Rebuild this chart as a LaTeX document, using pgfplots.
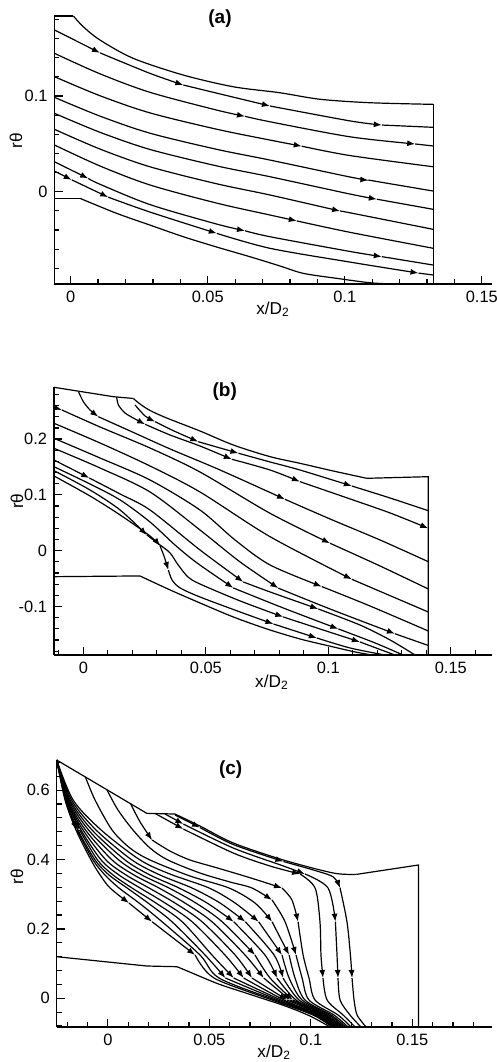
\documentclass[border=0pt]{standalone}
\usepackage{fontspec}
\setmainfont{Liberation Sans}
\usepackage{pgfplots}
\pgfplotsset{compat=1.18}
\usetikzlibrary{arrows.meta}
\pgfplotsset{
 sl/.style={black,line width=0.6pt,smooth,mark=none},
 sa/.style={black,line width=0.6pt,smooth,mark=none,-{Latex[length=4pt,width=3pt]}},
 bd/.style={black,line width=0.6pt,mark=none},
 panel/.style={scale only axis, anchor=south west,
   axis x line*=bottom, axis y line*=left,
   tick align=inside, major tick length=4pt, minor tick length=2.4pt,
   tick style={black,line width=0.6pt},
   axis line style={black,line width=0.7pt},
   tick label style={font=\fontsize{8.2}{9}\selectfont},
   clip=false},
}
\newcommand{\ttl}{\bfseries\fontsize{9.5}{11}\selectfont}
\newcommand{\lbl}{\fontsize{8.6}{10}\selectfont}
\begin{document}
\begin{tikzpicture}
\useasboundingbox (0,0) rectangle (248.5pt,-531pt);
% ---------------- (a)
\begin{axis}[panel, at={(27.25pt,-142pt)}, width=218.6pt, height=134pt,
 xmin=-0.0059,xmax=0.1536,ymin=-0.0964,ymax=0.1836,
 xtick={0,0.05,0.1,0.15}, xticklabels={0,0.05,0.1,0.15},
 minor xtick={0.01,0.02,0.03,0.04,0.06,0.07,0.08,0.09,0.11,0.12,0.13,0.14},
 ytick={0,0.1}, yticklabels={0,0.1},
 minor ytick={-0.08,-0.06,-0.04,-0.02,0.02,0.04,0.06,0.08,0.12,0.14,0.16,0.18}]
\addplot[bd] coordinates {(-0.0059,0.1836)(0.0010,0.1836)};
\addplot[sl] coordinates {(0.0010,0.1836)(0.0046,0.1724)(0.0107,0.1585)(0.0228,0.1394)(0.0411,0.1219)(0.0593,0.1097)(0.0764,0.1034)(0.0910,0.0966)(0.1092,0.0930)(0.1323,0.0913)};
\addplot[bd] coordinates {(0.1323,0.0913)(0.1323,-0.0964)};
\addplot[bd] coordinates {(-0.0059,-0.0069)(0.0034,-0.0069)};
\addplot[sl] coordinates {(0.0034,-0.0069)(0.0168,-0.0226)(0.0289,-0.0348)(0.0411,-0.0470)(0.0533,-0.0578)(0.0654,-0.0679)(0.0764,-0.0776)(0.0849,-0.0853)(0.0971,-0.0905)(0.1092,-0.0951)(0.1177,-0.0964)};
\addplot[sa] coordinates {(-0.0059,0.1690)(0.0107,0.1451)};
\addplot[sa] coordinates {(0.0107,0.1451)(0.0289,0.1237)(0.0411,0.1115)};
\addplot[sa] coordinates {(0.0411,0.1115)(0.0533,0.1030)(0.0727,0.0896)};
\addplot[sa] coordinates {(0.0727,0.0896)(0.1019,0.0740)(0.1135,0.0697)};
\addplot[sl] coordinates {(0.1135,0.0697)(0.1323,0.0673)};
\addplot[sa] coordinates {(-0.0059,0.1446)(0.0107,0.1232)(0.0289,0.1039)(0.0533,0.0853)(0.0636,0.0788)};
\addplot[sa] coordinates {(0.0636,0.0788)(0.0727,0.0731)(0.1019,0.0574)(0.1257,0.0499)};
\addplot[sl] coordinates {(0.1257,0.0499)(0.1323,0.0478)};
\addplot[sa] coordinates {(-0.0059,0.1202)(0.0107,0.1003)(0.0289,0.0824)(0.0533,0.0653)(0.0727,0.0540)(0.0843,0.0476)};
\addplot[sl] coordinates {(0.0843,0.0476)(0.1019,0.0378)(0.1323,0.0261)};
\addplot[sa] coordinates {(-0.0059,0.0986)(0.0107,0.0790)(0.0289,0.0612)(0.0533,0.0443)(0.0727,0.0331)(0.1019,0.0154)(0.1086,0.0122)};
\addplot[sl] coordinates {(0.1086,0.0122)(0.1323,0.0007)};
\addplot[sa] coordinates {(-0.0059,0.0819)(0.0107,0.0621)(0.0289,0.0442)(0.0533,0.0270)(0.0727,0.0157)(0.1019,-0.0024)(0.1117,-0.0078)};
\addplot[sl] coordinates {(0.1117,-0.0078)(0.1323,-0.0184)};
\addplot[sa] coordinates {(-0.0059,0.0652)(0.0107,0.0446)(0.0289,0.0261)(0.0533,0.0083)(0.0727,-0.0034)(0.0983,-0.0202)};
\addplot[sl] coordinates {(0.0983,-0.0202)(0.1019,-0.0220)(0.1323,-0.0393)};
\addplot[sa] coordinates {(-0.0059,0.0488)(0.0107,0.0269)(0.0289,0.0071)(0.0533,-0.0119)(0.0727,-0.0243)(0.0825,-0.0305)};
\addplot[sl] coordinates {(0.0825,-0.0305)(0.1019,-0.0424)(0.1323,-0.0591)};
\addplot[sa] coordinates {(-0.0059,0.0313)(0.0064,0.0139)};
\addplot[sa] coordinates {(0.0064,0.0139)(0.0107,0.0078)(0.0289,-0.0134)(0.0533,-0.0338)(0.0636,-0.0408)};
\addplot[sa] coordinates {(0.0636,-0.0408)(0.0727,-0.0470)(0.1019,-0.0624)(0.1135,-0.0678)};
\addplot[sl] coordinates {(0.1135,-0.0678)(0.1323,-0.0766)};
\addplot[sa] coordinates {(-0.0059,0.0216)(0.0004,0.0124)};
\addplot[sa] coordinates {(0.0004,0.0124)(0.0137,-0.0057)};
\addplot[sa] coordinates {(0.0137,-0.0057)(0.0289,-0.0212)(0.0533,-0.0435)};
\addplot[sa] coordinates {(0.0533,-0.0435)(0.0727,-0.0591)(0.1019,-0.0735)(0.1269,-0.0850)};
\addplot[sl] coordinates {(0.1269,-0.0850)(0.1323,-0.0870)};
\node[font=\ttl] at (axis description cs:0.3785,0.99) {(a)};
\node[font=\lbl,rotate=90] at (axis description cs:-0.088,0.534) {rθ};
\node[font=\lbl] at (axis description cs:0.50,-0.093) {x/D\textsubscript{2}};
\end{axis}
% ---------------- (b)
\begin{axis}[panel, at={(27pt,-327.5pt)}, width=218.85pt, height=133.85pt,
 xmin=-0.0120,xmax=0.1667,ymin=-0.1870,ymax=0.2928,
 xtick={0,0.05,0.1,0.15}, xticklabels={0,0.05,0.1,0.15},
 minor xtick={-0.01,0.01,0.02,0.03,0.04,0.06,0.07,0.08,0.09,0.11,0.12,0.13,0.14,0.16},
 ytick={-0.1,0,0.1,0.2}, yticklabels={-0.1,0,0.1,0.2},
 minor ytick={-0.18,-0.16,-0.14,-0.12,-0.08,-0.06,-0.04,-0.02,0.02,0.04,0.06,0.08,0.12,0.14,0.16,0.18,0.22,0.24,0.26,0.28}]
\addplot[bd] coordinates {(-0.0120,0.2928)(0.0122,0.2760)(0.0204,0.2728)};
\addplot[sl] coordinates {(0.0204,0.2728)(0.0231,0.2629)(0.0272,0.2513)(0.0340,0.2378)(0.0476,0.2145)(0.0612,0.1894)(0.0762,0.1685)(0.0884,0.1566)(0.1020,0.1428)(0.1157,0.1297)};
\addplot[bd] coordinates {(0.1157,0.1297)(0.1408,0.1326)(0.1408,-0.1870)};
\addplot[bd] coordinates {(-0.0120,-0.0466)(0.0231,-0.0453)};
\addplot[sl] coordinates {(0.0231,-0.0453)(0.0354,-0.0704)(0.0476,-0.0937)(0.0612,-0.1188)(0.0749,-0.1403)(0.0884,-0.1582)(0.1020,-0.1725)(0.1109,-0.1815)(0.1178,-0.1870)};
\addplot[sa] coordinates {(0.0211,0.2611)(0.0252,0.2414)(0.0293,0.2312)};
\addplot[sa] coordinates {(0.0293,0.2312)(0.0367,0.2151)(0.0469,0.1953)};
\addplot[sa] coordinates {(0.0469,0.1953)(0.0633,0.1746)};
\addplot[sa] coordinates {(0.0633,0.1746)(0.0762,0.1590)(0.0884,0.1446)(0.1096,0.1159)};
\addplot[sl] coordinates {(0.1096,0.1159)(0.1252,0.0944)(0.1408,0.0717)};
\addplot[sa] coordinates {(0.0136,0.2754)(0.0143,0.2611)(0.0170,0.2468)(0.0211,0.2360)(0.0252,0.2265)};
\addplot[sa] coordinates {(0.0252,0.2265)(0.0354,0.2073)(0.0476,0.1876)(0.0606,0.1638)};
\addplot[sa] coordinates {(0.0606,0.1638)(0.0762,0.1446)(0.0884,0.1237)};
\addplot[sa] coordinates {(0.0884,0.1237)(0.1089,0.0927)(0.1252,0.0676)(0.1408,0.0401)};
\addplot[sa] coordinates {(-0.0020,0.2849)(0.0000,0.2670)(0.0027,0.2522)(0.0061,0.2401)};
\addplot[sa] coordinates {(0.0061,0.2401)(0.0191,0.2145)(0.0354,0.1823)(0.0558,0.1446)(0.0823,0.0921)};
\addplot[sl] coordinates {(0.0823,0.0921)(0.1007,0.0568)(0.1211,0.0192)(0.1408,-0.0197)};
\addplot[sa] coordinates {(-0.0120,0.2570)(-0.0088,0.2522)};
\addplot[sa] coordinates {(-0.0088,0.2522)(0.0068,0.2217)(0.0272,0.1840)(0.0476,0.1410)(0.0762,0.0670)(0.1007,0.0133)};
\addplot[sl] coordinates {(0.1007,0.0133)(0.1211,-0.0274)(0.1408,-0.0686)};
\addplot[sa] coordinates {(-0.0120,0.2283)(0.0068,0.1930)(0.0272,0.1518)(0.0476,0.1052)(0.0762,0.0251)(0.1096,-0.0513)};
\addplot[sl] coordinates {(0.1096,-0.0513)(0.1408,-0.1099)};
\addplot[sa] coordinates {(-0.0120,0.2014)(0.0068,0.1661)(0.0272,0.1267)(0.0476,0.0729)(0.0619,0.0192)(0.0762,-0.0256)(0.0973,-0.0643)};
\addplot[sl] coordinates {(0.0973,-0.0643)(0.1170,-0.0991)(0.1408,-0.1439)};
\addplot[sa] coordinates {(-0.0120,0.1835)(0.0068,0.1482)(0.0272,0.1052)(0.0476,0.0371)(0.0640,-0.0203)(0.0796,-0.0672)};
\addplot[sa] coordinates {(0.0796,-0.0672)(0.1007,-0.1045)(0.1272,-0.1489)};
\addplot[sl] coordinates {(0.1272,-0.1489)(0.1408,-0.1699)};
\addplot[sa] coordinates {(-0.0120,0.1625)(0.0024,0.1303)};
\addplot[sa] coordinates {(0.0024,0.1303)(0.0150,0.1016)(0.0272,0.0729)(0.0476,0.0013)(0.0653,-0.0561)};
\addplot[sa] coordinates {(0.0653,-0.0561)(0.0762,-0.0740)(0.0959,-0.1045)};
\addplot[sl] coordinates {(0.0959,-0.1045)(0.1129,-0.1332)(0.1252,-0.1600)(0.1354,-0.1870)};
\addplot[sa] coordinates {(-0.0120,0.1505)(0.0027,0.1195)(0.0150,0.0909)(0.0272,0.0514)(0.0374,0.0102)(0.0464,-0.0220)(0.0612,-0.0668)};
\addplot[sa] coordinates {(0.0612,-0.0668)(0.0816,-0.1027)(0.1041,-0.1403)};
\addplot[sl] coordinates {(0.1041,-0.1403)(0.1191,-0.1654)(0.1305,-0.1870)};
\addplot[sa] coordinates {(-0.0120,0.1434)(0.0027,0.1088)(0.0150,0.0729)(0.0259,0.0281)};
\addplot[sa] coordinates {(0.0259,0.0281)(0.0313,0.0102)(0.0354,-0.0041)(0.0387,-0.0256)(0.0427,-0.0471)(0.0476,-0.0597)(0.0640,-0.0901)(0.0816,-0.1188)};
\addplot[sa] coordinates {(0.0816,-0.1188)(0.0953,-0.1385)(0.1129,-0.1636)};
\addplot[sl] coordinates {(0.1129,-0.1636)(0.1272,-0.1870)};
\addplot[sa] coordinates {(-0.0120,0.1339)(0.0027,0.0980)(0.0150,0.0640)(0.0272,0.0263)(0.0313,0.0084)};
\addplot[sa] coordinates {(0.0313,0.0084)(0.0329,-0.0095)(0.0347,-0.0346)};
\addplot[sa] coordinates {(0.0347,-0.0346)(0.0362,-0.0525)(0.0395,-0.0668)(0.0476,-0.0830)(0.0640,-0.1099)(0.0776,-0.1314)};
\addplot[sa] coordinates {(0.0776,-0.1314)(0.0953,-0.1565)};
\addplot[sl] coordinates {(0.0953,-0.1565)(0.1089,-0.1744)(0.1231,-0.1870)};
\node[font=\ttl] at (axis description cs:0.39,0.985) {(b)};
\node[font=\lbl,rotate=90] at (axis description cs:-0.0845,0.575) {rθ};
\node[font=\lbl] at (axis description cs:0.498,-0.101) {x/D\textsubscript{2}};
\end{axis}
% ---------------- (c)
\begin{axis}[panel, at={(28.35pt,-513.5pt)}, width=217.5pt, height=133.75pt,
 xmin=-0.0252,xmax=0.1891,ymin=-0.0827,ymax=0.6882,
 xtick={0,0.05,0.1,0.15}, xticklabels={0,0.05,0.1,0.15},
 minor xtick={-0.02,-0.01,0.01,0.02,0.03,0.04,0.06,0.07,0.08,0.09,0.11,0.12,0.13,0.14,0.16,0.17,0.18},
 ytick={0,0.2,0.4,0.6}, yticklabels={0,0.2,0.4,0.6},
 minor ytick={-0.08,-0.04,0.04,0.08,0.12,0.16,0.24,0.28,0.32,0.36,0.44,0.48,0.52,0.56,0.64,0.68}]
\addplot[bd] coordinates {(-0.0252,0.6867)(0.0192,0.5331)(0.0331,0.5311)};
\addplot[sl] coordinates {(0.0331,0.5311)(0.0454,0.4965)(0.0618,0.4476)(0.0865,0.3986)(0.1111,0.3611)(0.1226,0.3573)};
\addplot[bd] coordinates {(0.1226,0.3573)(0.1530,0.3842)(0.1530,-0.0827)};
\addplot[bd] coordinates {(-0.0252,0.1199)(0.0192,0.0931)(0.0341,0.0911)};
\addplot[sl] coordinates {(0.0341,0.0911)(0.0415,0.0729)(0.0546,0.0412)(0.0710,0.0095)(0.0874,-0.0222)(0.0996,-0.0510)(0.1095,-0.0827)};
% j1
\addplot[sa] coordinates {(0.0331,0.5282)(0.0454,0.4922)};
\addplot[sa] coordinates {(0.0454,0.4922)(0.0618,0.4432)(0.0865,0.3942)};
\addplot[sa] coordinates {(0.0865,0.3942)(0.1021,0.3683)(0.1111,0.3496)(0.1144,0.3179)};
\addplot[sa] coordinates {(0.1144,0.3179)(0.1178,0.2207)(0.1195,0.1248)(0.1203,0.0585)};
\addplot[sl] coordinates {(0.1203,0.0585)(0.1213,-0.0049)(0.1228,-0.0481)(0.1272,-0.0827)};
% j2
\addplot[sa] coordinates {(0.0282,0.5311)(0.0372,0.5023)};
\addplot[sa] coordinates {(0.0372,0.5023)(0.0618,0.4331)(0.0865,0.3813)(0.0971,0.3582)};
\addplot[sa] coordinates {(0.0971,0.3582)(0.1085,0.3179)(0.1121,0.2207)};
\addplot[sa] coordinates {(0.1121,0.2207)(0.1129,0.1248)(0.1134,0.0585)};
\addplot[sl] coordinates {(0.1134,0.0585)(0.1144,-0.0049)(0.1193,-0.0481)(0.1247,-0.0827)};
% j3
\addplot[sa] coordinates {(0.0233,0.5326)(0.0372,0.4879)};
\addplot[sa] coordinates {(0.0372,0.4879)(0.0618,0.4187)(0.0799,0.3813)(0.0947,0.3582)};
\addplot[sa] coordinates {(0.0947,0.3582)(0.1021,0.3179)(0.1045,0.2207)(0.1050,0.1248)(0.1060,0.0585)};
\addplot[sl] coordinates {(0.1060,0.0585)(0.1080,-0.0049)(0.1159,-0.0481)(0.1218,-0.0827)};
% j4
\addplot[sa] coordinates {(0.0111,0.5620)(0.0159,0.5081)(0.0218,0.4562)};
\addplot[sa] coordinates {(0.0218,0.4562)(0.0306,0.4245)(0.0405,0.3986)(0.0546,0.3746)(0.0710,0.3458)(0.0858,0.3179)};
\addplot[sa] coordinates {(0.0858,0.3179)(0.0907,0.2833)(0.0937,0.2207)};
\addplot[sl] coordinates {(0.0937,0.2207)(0.0962,0.1248)(0.0991,0.0585)(0.1021,-0.0049)(0.1134,-0.0481)(0.1198,-0.0827)};
% j5
\addplot[sa] coordinates {(-0.0004,0.6003)(0.0050,0.5427)(0.0124,0.4850)(0.0208,0.4331)(0.0296,0.3986)(0.0454,0.3611)(0.0602,0.3352)(0.0710,0.3179)(0.0809,0.2833)};
\addplot[sa] coordinates {(0.0809,0.2833)(0.0873,0.2207)(0.0927,0.1248)};
\addplot[sl] coordinates {(0.0927,0.1248)(0.0957,0.0585)(0.0991,-0.0049)(0.1114,-0.0481)(0.1183,-0.0827)};
% j6
\addplot[sa] coordinates {(-0.0111,0.6386)(-0.0063,0.5715)(0.0021,0.4850)(0.0109,0.4331)(0.0208,0.3986)(0.0405,0.3524)(0.0597,0.3179)(0.0725,0.2746)(0.0809,0.2207)};
\addplot[sa] coordinates {(0.0809,0.2207)(0.0893,0.1248)};
\addplot[sl] coordinates {(0.0893,0.1248)(0.0922,0.0585)(0.0971,-0.0049)(0.1100,-0.0481)(0.1173,-0.0827)};
% j7
\addplot[sa] coordinates {(-0.0252,0.6867)(-0.0171,0.5715)(-0.0033,0.4850)(0.0159,0.3986)(0.0306,0.3582)(0.0499,0.3179)(0.0627,0.2746)(0.0743,0.2207)};
\addplot[sa] coordinates {(0.0743,0.2207)(0.0858,0.1248)};
\addplot[sl] coordinates {(0.0858,0.1248)(0.0893,0.0585)(0.0957,-0.0049)(0.1090,-0.0481)(0.1163,-0.0827)};
% j8
\addplot[sa] coordinates {(-0.0252,0.6867)(-0.0179,0.5715)(-0.0058,0.4850)(0.0119,0.3986)(0.0257,0.3553)(0.0415,0.3179)(0.0553,0.2746)(0.0677,0.2207)};
\addplot[sa] coordinates {(0.0677,0.2207)(0.0819,0.1248)(0.0863,0.0585)};
\addplot[sl] coordinates {(0.0863,0.0585)(0.0942,-0.0049)(0.1080,-0.0481)(0.1156,-0.0827)};
% j9
\addplot[sa] coordinates {(-0.0252,0.6867)(-0.0186,0.5715)(-0.0078,0.4850)(0.0085,0.3986)(0.0208,0.3553)(0.0351,0.3179)(0.0489,0.2746)(0.0620,0.2207)};
\addplot[sa] coordinates {(0.0620,0.2207)(0.0774,0.1248)(0.0833,0.0585)};
\addplot[sl] coordinates {(0.0833,0.0585)(0.0927,-0.0049)(0.1070,-0.0481)(0.1149,-0.0827)};
% j10
\addplot[sa] coordinates {(-0.0252,0.6867)(-0.0191,0.5715)(-0.0095,0.4850)(0.0054,0.3986)(0.0168,0.3553)(0.0301,0.3179)(0.0434,0.2746)(0.0563,0.2207)(0.0725,0.1248)};
\addplot[sa] coordinates {(0.0725,0.1248)(0.0799,0.0585)(0.0912,-0.0049)};
\addplot[sl] coordinates {(0.0912,-0.0049)(0.1063,-0.0481)(0.1141,-0.0827)};
% j11
\addplot[sa] coordinates {(-0.0252,0.6867)(-0.0196,0.5715)(-0.0110,0.4850)(0.0021,0.3986)(0.0129,0.3553)(0.0252,0.3179)(0.0380,0.2746)(0.0513,0.2207)(0.0676,0.1248)(0.0768,0.0585)};
\addplot[sa] coordinates {(0.0768,0.0585)(0.0898,-0.0049)};
\addplot[sl] coordinates {(0.0898,-0.0049)(0.1055,-0.0481)(0.1134,-0.0827)};
% j12
\addplot[sa] coordinates {(-0.0252,0.6867)(-0.0199,0.5715)(-0.0122,0.4850)(-0.0009,0.3986)(0.0090,0.3553)(0.0203,0.3179)(0.0331,0.2746)(0.0464,0.2207)(0.0627,0.1248)(0.0710,0.0585)};
\addplot[sa] coordinates {(0.0710,0.0585)(0.0883,-0.0049)};
\addplot[sl] coordinates {(0.0883,-0.0049)(0.1048,-0.0481)(0.1129,-0.0827)};
% j13
\addplot[sa] coordinates {(-0.0252,0.6867)(-0.0201,0.5715)(-0.0132,0.4850)(-0.0033,0.3986)(0.0055,0.3553)(0.0159,0.3179)(0.0282,0.2746)(0.0415,0.2207)(0.0577,0.1248)(0.0669,0.0585)};
\addplot[sl] coordinates {(0.0669,0.0585)(0.0868,-0.0049)(0.1040,-0.0481)(0.1124,-0.0827)};
% j14
\addplot[sa] coordinates {(-0.0252,0.6867)(-0.0203,0.5715)(-0.0139,0.4850)};
\addplot[sa] coordinates {(-0.0139,0.4850)(-0.0051,0.3986)(0.0026,0.3553)(0.0119,0.3179)(0.0237,0.2746)(0.0366,0.2207)(0.0513,0.1248)(0.0620,0.0585)};
\addplot[sl] coordinates {(0.0620,0.0585)(0.0853,-0.0049)(0.1033,-0.0481)(0.1119,-0.0827)};
% j15
\addplot[sa] coordinates {(-0.0252,0.6867)(-0.0206,0.5715)(-0.0147,0.4850)(-0.0063,0.3986)(0.0006,0.3553)(0.0095,0.3179)(0.0198,0.2746)(0.0316,0.2207)(0.0479,0.1248)(0.0579,0.0585)};
\addplot[sl] coordinates {(0.0579,0.0585)(0.0838,-0.0049)(0.1026,-0.0481)(0.1114,-0.0827)};
% j16
\addplot[sa] coordinates {(-0.0252,0.6867)(-0.0208,0.5715)(-0.0152,0.4850)};
\addplot[sl] coordinates {(-0.0152,0.4850)(-0.0073,0.3986)(-0.0014,0.3553)(0.0055,0.3179)(0.0154,0.2746)(0.0267,0.2207)(0.0454,0.1248)(0.0548,0.0585)(0.0824,-0.0049)(0.1018,-0.0481)(0.1109,-0.0827)};
% j17
\addplot[sa] coordinates {(-0.0252,0.6867)(-0.0211,0.5715)(-0.0157,0.4850)(-0.0083,0.3986)(-0.0038,0.3553)(0.0011,0.3179)(0.0104,0.2746)};
\addplot[sa] coordinates {(0.0104,0.2746)(0.0218,0.2207)};
\addplot[sa] coordinates {(0.0218,0.2207)(0.0430,0.1248)};
\addplot[sl] coordinates {(0.0430,0.1248)(0.0523,0.0585)(0.0809,-0.0049)(0.1011,-0.0481)(0.1104,-0.0827)};
\node[font=\ttl] at (axis description cs:0.40,0.964) {(c)};
\node[font=\lbl,rotate=90] at (axis description cs:-0.0913,0.561) {rθ};
\node[font=\lbl] at (axis description cs:0.50,-0.093) {x/D\textsubscript{2}};
\end{axis}
\end{tikzpicture}
\end{document}
